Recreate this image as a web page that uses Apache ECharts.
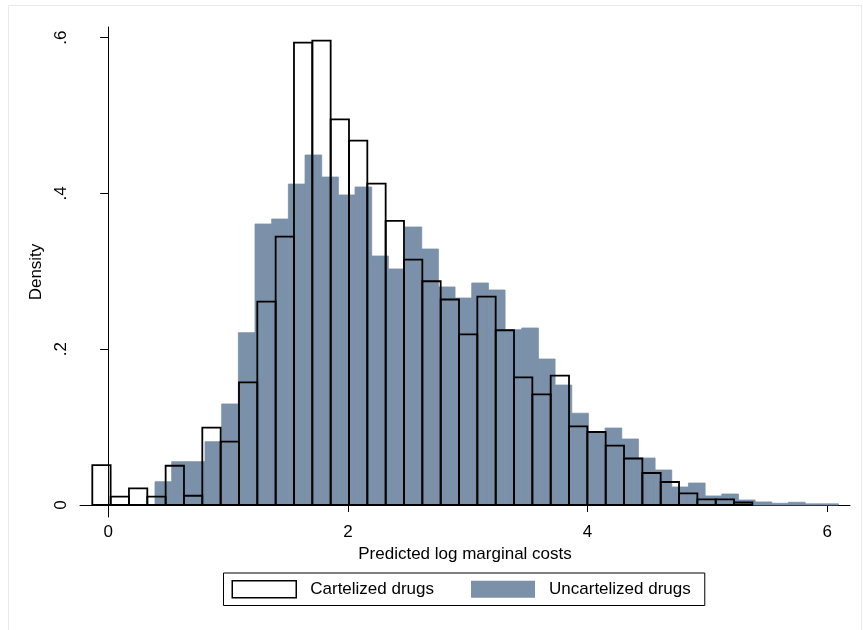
<!DOCTYPE html>
<html>
<head>
<meta charset="utf-8">
<script src="https://cdn.jsdelivr.net/npm/echarts@6/dist/echarts.min.js"></script>
<style>
html,body{margin:0;padding:0;background:#fff;}
#chart{width:863px;height:630px;}
</style>
</head>
<body>
<div id="chart"></div>
<script>
// Histogram bins (x in predicted log marginal cost units)
const cartelStart = -0.1327;
const cartelWidth = 0.1530;
const cartelDensity = [
  0.0513, 0.0107, 0.0214, 0.0107, 0.0504, 0.0119, 0.0992, 0.0813, 0.1575, 0.2610,
  0.3444, 0.5935, 0.5960, 0.4951, 0.4677, 0.4125, 0.3646, 0.3149, 0.2872, 0.2638,
  0.2191, 0.2674, 0.2243, 0.1639, 0.1421, 0.1660, 0.1010, 0.0937, 0.0761, 0.0597,
  0.0411, 0.0295, 0.0150, 0.0073, 0.0073, 0.0032
];
const uncartelStart = 0.3906;
const uncartelWidth = 0.1391;
const uncartelDensity = [
  0.0299, 0.0556, 0.0556, 0.0813, 0.1297, 0.2212, 0.3607, 0.3671, 0.4120, 0.4493,
  0.4210, 0.3980, 0.4082, 0.3196, 0.3030, 0.3569, 0.3286, 0.2799, 0.2657, 0.2850,
  0.2760, 0.2250, 0.2272, 0.1874, 0.1540, 0.1178, 0.0940, 0.0988, 0.0847, 0.0603,
  0.0449, 0.0231, 0.0282, 0.0116, 0.0141, 0.0064, 0.0039, 0.0022, 0.0035, 0.0015,
  0.0015
];
const xTicks = [0, 2, 4, 6];
const xTickLabels = ['0', '2', '4', '6'];
const yTicks = [0, 0.2, 0.4, 0.6];
const yTickLabels = ['0', '.2', '.4', '.6'];
const seriesNames = ['Cartelized drugs', 'Uncartelized drugs'];

function binData(start, width, dens) {
  return dens.map((d, i) => [start + i * width, start + (i + 1) * width, d]);
}

const FONT = "'Liberation Sans', Arial, sans-serif";
const GRAY = '#7a91a9';

function renderBar(filled) {
  return function (params, api) {
    const p0 = api.coord([api.value(0), api.value(2)]);
    const p1 = api.coord([api.value(1), 0]);
    const shape = { x: p0[0], y: p0[1], width: p1[0] - p0[0], height: p1[1] - p0[1] };
    if (filled) {
      return { type: 'rect', shape: shape, style: { fill: GRAY, stroke: GRAY, lineWidth: 0.8 } };
    }
    return { type: 'rect', shape: shape, style: { fill: null, stroke: '#000', lineWidth: 1.8 } };
  };
}

const chart = echarts.init(document.getElementById('chart'), null, { renderer: 'canvas' });
chart.setOption({
  backgroundColor: '#fff',
  animation: false,
  textStyle: { fontFamily: FONT },
  graphic: [{
    type: 'rect', shape: { x: 8.5, y: 5.5, width: 853, height: 640 },
    style: { fill: null, stroke: '#e6eaed', lineWidth: 1 }, silent: true, z: -10
  }],
  grid: { left: 80, right: 13, top: 27, bottom: 113, containLabel: false },
  xAxis: {
    type: 'value', min: -0.2353, max: 6.19,
    name: 'Predicted log marginal costs', nameLocation: 'middle', nameGap: 25,
    nameTextStyle: { fontSize: 17, color: '#000', fontFamily: FONT },
    axisLine: { show: true, lineStyle: { color: '#000', width: 1 } },
    axisTick: { show: true, length: 7, customValues: xTicks, lineStyle: { color: '#000' } },
    axisLabel: {
      customValues: xTicks, fontSize: 17, color: '#000', margin: 7, fontFamily: FONT,
      formatter: v => xTickLabels[xTicks.indexOf(v)] ?? ''
    },
    splitLine: { show: false }
  },
  yAxis: {
    type: 'value', min: -0.0154, max: 0.6136,
    name: 'Density', nameLocation: 'middle', nameGap: 30, nameRotate: 90,
    nameTextStyle: { fontSize: 17, color: '#000', fontFamily: FONT },
    axisLine: { show: true, lineStyle: { color: '#000', width: 1 } },
    axisTick: { show: true, length: 8, customValues: yTicks, lineStyle: { color: '#000' } },
    axisLabel: {
      customValues: yTicks, rotate: 90, fontSize: 17, color: '#000', margin: 10, fontFamily: FONT,
      formatter: v => { const i = yTicks.findIndex(t => Math.abs(t - v) < 1e-9); return i >= 0 ? yTickLabels[i] : ''; }
    },
    splitLine: { show: false }
  },
  legend: {
    left: 223.5, top: 573, orient: 'horizontal',
    icon: 'rect', itemWidth: 64, itemHeight: 17, itemGap: 37,
    borderColor: '#000', borderWidth: 1, padding: [7, 14, 7, 8],
    textStyle: { fontSize: 17, color: '#000', fontFamily: FONT, padding: [0, 0, 0, 9] },
    selectedMode: false,
    data: [
      { name: seriesNames[0], itemStyle: { color: '#fff', borderColor: '#000', borderWidth: 1.5 } },
      { name: seriesNames[1], itemStyle: { color: GRAY, borderWidth: 0 } }
    ]
  },
  series: [
    {
      name: seriesNames[1], type: 'custom', renderItem: renderBar(true),
      itemStyle: { color: GRAY },
      encode: { x: [0, 1], y: 2 },
      data: binData(uncartelStart, uncartelWidth, uncartelDensity), z: 2
    },
    {
      name: seriesNames[0], type: 'custom', renderItem: renderBar(false),
      itemStyle: { color: '#fff', borderColor: '#000' },
      encode: { x: [0, 1], y: 2 },
      data: binData(cartelStart, cartelWidth, cartelDensity), z: 3
    }
  ]
});
</script>
</body>
</html>
